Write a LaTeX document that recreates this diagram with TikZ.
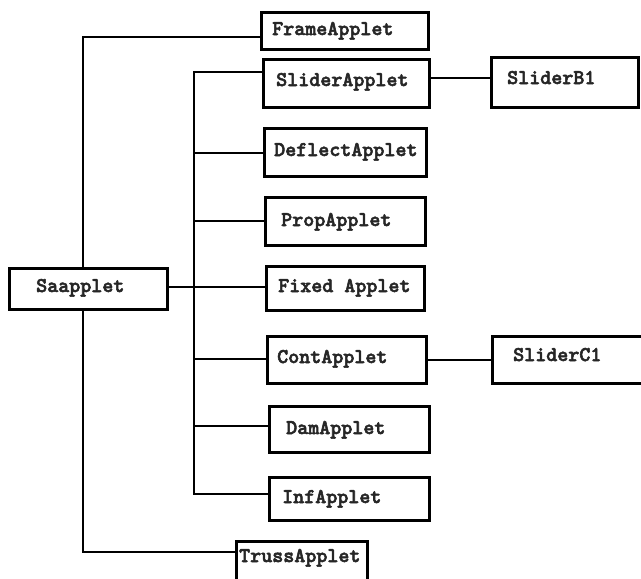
\documentclass[tikz,border=0pt]{standalone}
\usepackage{fontspec}
\newfontfamily\boxfont{lmmonolt10-bold.otf}[FakeBold=2.5]
\begin{document}
\begin{tikzpicture}[x=1pt,y=-1pt,
  box/.style={draw=black, line width=2.6pt, rectangle, inner sep=0pt, anchor=north west},
  lbl/.style={anchor=base west, inner sep=0pt, font=\boxfont\fontsize{21}{22}\selectfont, text=black!85},
  conn/.style={draw=black, line width=2.3pt, line join=miter}]
\useasboundingbox (0,0) rectangle (641,579);
\clip (0,0) rectangle (641,579);
% boxes: left, top, width, height
\node[box, minimum width=167pt, minimum height=37pt] (frame)   at (260,11)  {};
\node[box, minimum width=166pt, minimum height=48pt] (slider)  at (262,58)  {};
\node[box, minimum width=147pt, minimum height=50pt] (sliderb) at (490,56)  {};
\node[box, minimum width=162pt, minimum height=48pt] (deflect) at (263,127) {};
\node[box, minimum width=160pt, minimum height=48pt] (prop)    at (264,196) {};
\node[box, minimum width=158pt, minimum height=44pt] (fixed)   at (265,265) {};
\node[box, minimum width=158pt, minimum height=41pt] (sa)      at (8,267)   {};
\node[box, minimum width=159pt, minimum height=47pt] (cont)    at (266,335) {};
\node[box, minimum width=156pt, minimum height=47pt] (sliderc) at (491,335) {};
\node[box, minimum width=160pt, minimum height=46pt] (dam)     at (268,405) {};
\node[box, minimum width=160pt, minimum height=43pt] (inf)     at (268,476) {};
\node[box, minimum width=131pt, minimum height=48pt] (truss)   at (235,540) {};
% labels
\node[lbl] (frame-t)   at (272,35)  {FrameApplet};
\node[lbl] (slider-t)  at (276,86)  {SliderApplet};
\node[lbl] (sliderb-t) at (507,84)  {SliderB1};
\node[lbl] (deflect-t) at (274,156) {DeflectApplet};
\node[lbl] (prop-t)    at (281,226) {PropApplet};
\node[lbl] (fixed-t)   at (278,292) {Fixed Applet};
\node[lbl] (sa-t)      at (36,292)  {Saapplet};
\node[lbl] (cont-t)    at (277,363) {ContApplet};
\node[lbl] (sliderc-t) at (513,361) {SliderC1};
\node[lbl] (dam-t)     at (286,434) {DamApplet};
\node[lbl] (inf-t)     at (282,503) {InfApplet};
\node[lbl] (truss-t)   at (239,562) {TrussApplet};
% junction coordinates
\coordinate (fj) at (83,37);
\coordinate (tj) at (83,552);
\coordinate (bt) at (194,72);
\coordinate (bd) at (194,153);
\coordinate (bp) at (194,221);
\coordinate (bf) at (194,287);
\coordinate (bc) at (194,359);
\coordinate (bm) at (194,426);
\coordinate (bb) at (194,494);
\coordinate (sbj) at (428,78);
% connectors
\draw[conn] (frame.west |- fj) -- (fj) -- (fj |- sa.north);
\draw[conn] (fj |- sa.south) -- (tj) -- (tj -| truss.west);
\draw[conn] (slider.west |- bt) -- (bt) -- (bb) -- (bb -| inf.west);
\draw[conn] (bd) -- (bd -| deflect.west);
\draw[conn] (bp) -- (bp -| prop.west);
\draw[conn] (sa.east |- bf) -- (bf -| fixed.west);
\draw[conn] (bc) -- (bc -| cont.west);
\draw[conn] (bm) -- (bm -| dam.west);
\draw[conn] (sbj -| slider.east) -- (sbj -| sliderb.west);
\draw[conn] (cont.east) -- (sliderc.west);
\end{tikzpicture}
\end{document}
